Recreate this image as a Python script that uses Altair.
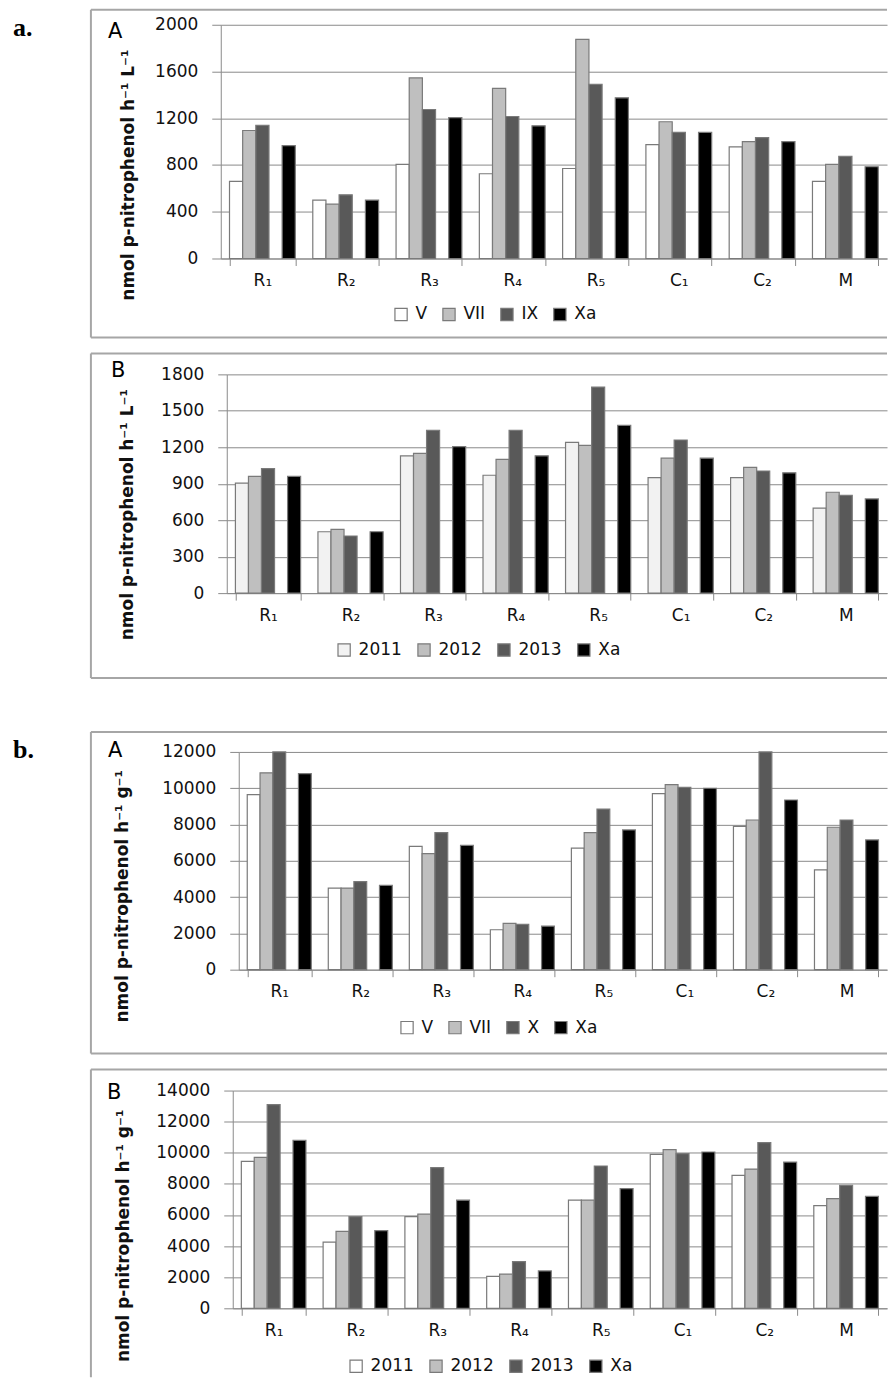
import altair as alt
import pandas as pd

categories = ["R₁", "R₂", "R₃", "R₄", "R₅", "C₁", "C₂", "M"]

# a. A  (nmol p-nitrophenol h-1 L-1, months)
aA_series = ["V", "VII", "IX", "Xa"]
aA_V = [660, 500, 805, 725, 770, 975, 955, 660]
aA_VII = [1095, 465, 1545, 1455, 1875, 1170, 1000, 805]
aA_IX = [1140, 545, 1275, 1215, 1490, 1080, 1035, 875]
aA_Xa = [965, 500, 1205, 1135, 1375, 1080, 1000, 785]

# a. B  (years)
aB_series = ["2011", "2012", "2013", "Xa"]
aB_2011 = [905, 505, 1130, 970, 1240, 950, 950, 700]
aB_2012 = [960, 525, 1150, 1100, 1215, 1110, 1035, 830]
aB_2013 = [1025, 470, 1340, 1340, 1695, 1260, 1005, 805]
aB_Xa = [960, 505, 1205, 1130, 1380, 1110, 990, 775]

# b. A  (nmol p-nitrophenol h-1 g-1, months)
bA_series = ["V", "VII", "X", "Xa"]
bA_V = [9650, 4500, 6800, 2200, 6700, 9700, 7900, 5500]
bA_VII = [10850, 4500, 6400, 2550, 7550, 10200, 8250, 7850]
bA_X = [12000, 4850, 7550, 2500, 8850, 10050, 12000, 8250]
bA_Xa = [10800, 4650, 6850, 2400, 7700, 10000, 9350, 7150]

# b. B  (years)
bB_series = ["2011", "2012", "2013", "Xa"]
bB_2011 = [9450, 4250, 5900, 2050, 6950, 9900, 8550, 6600]
bB_2012 = [9700, 4950, 6050, 2200, 6950, 10200, 8950, 7050]
bB_2013 = [13100, 5900, 9050, 3000, 9150, 9950, 10650, 7900]
bB_Xa = [10800, 5000, 6950, 2400, 7700, 10050, 9400, 7200]

title_L = "nmol p-nitrophenol h⁻¹ L⁻¹"
title_g = "nmol p-nitrophenol h⁻¹ g⁻¹"

COLORS_W = ["#ffffff", "#bfbfbf", "#595959", "#000000"]
COLORS_L = ["#f2f2f2", "#bfbfbf", "#595959", "#000000"]

FONT = "DejaVu Sans"
TXT = "#111111"
AX = "#8a8a8a"
EDGE = "#7a7a7a"
FRAME = "#a6a6a6"
ANCHOR = -150

one = pd.DataFrame({"k": [0]})
RES = dict(x="independent", y="independent", color="independent", xOffset="independent")


def panel(series, cols, colors, ymax, ystep, ytitle, letter, G):
    rows = []
    for s, vals in zip(series, cols):
        for c, v in zip(categories, vals):
            rows.append({"cat": c, "series": s, "value": v})
    df = pd.DataFrame(rows)
    W, H = G["w"], G["h"]
    offset_domain = series[:3] + ["gap"] + series[3:]

    bars = alt.Chart(df).mark_bar(stroke=EDGE, strokeWidth=1.2).encode(
        x=alt.X("cat:N", sort=categories,
                scale=alt.Scale(paddingInner=0.21, paddingOuter=0.105),
                axis=alt.Axis(title=None, labelAngle=0, tickBand="extent", grid=False,
                              domainColor=AX, tickColor=AX, tickSize=7, labelPadding=7,
                              labelFont=FONT, labelFontSize=17, labelColor=TXT)),
        xOffset=alt.XOffset("series:N",
                            scale=alt.Scale(domain=offset_domain, paddingInner=0, paddingOuter=0)),
        y=alt.Y("value:Q", scale=alt.Scale(domain=[0, ymax], nice=False),
                axis=alt.Axis(values=list(range(0, ymax + 1, ystep)), format="d",
                              grid=True, gridColor=AX,
                              domainColor=AX, tickColor=AX, tickSize=9, labelPadding=14,
                              labelFont=FONT, labelFontSize=17, labelColor=TXT,
                              title=ytitle, titleFont=FONT, titleFontSize=17,
                              titleFontWeight="bold", titleColor=TXT,
                              titleX=G["tx"], titleY=G["ty"], titleAngle=270,
                              titleBaseline="alphabetic", titleAlign="center")),
        color=alt.Color("series:N", scale=alt.Scale(domain=series, range=colors),
                        legend=alt.Legend(orient="none", legendX=G["lx"], legendY=G["ly"],
                                          direction="horizontal", title=None,
                                          symbolType="square", symbolSize=150,
                                          symbolStrokeColor=EDGE, symbolStrokeWidth=1.2,
                                          labelFont=FONT, labelFontSize=17, labelColor=TXT,
                                          labelOffset=6, columnPadding=12, padding=0)),
    )

    base = alt.Chart(one)
    layers = []
    # invisible left anchor, common to all panels
    layers.append(base.mark_rule(color="#ffffff", strokeWidth=1).encode(
        x=alt.value(ANCHOR), y=alt.value(0), y2=alt.value(2)))
    # invisible top anchor (extra gap above the frame)
    if G.get("top") is not None:
        layers.append(base.mark_rule(color="#ffffff", strokeWidth=1).encode(
            x=alt.value(0), x2=alt.value(2), y=alt.value(G["top"])))
    # frame
    layers.append(base.mark_rule(color=FRAME, strokeWidth=2).encode(
        x=alt.value(G["fl"]), x2=alt.value(W), y=alt.value(G["ft"])))
    layers.append(base.mark_rule(color=FRAME, strokeWidth=2).encode(
        x=alt.value(G["fl"]), y=alt.value(G["ft"]), y2=alt.value(G["fb"])))
    if G["bottom"]:
        layers.append(base.mark_rule(color=FRAME, strokeWidth=2).encode(
            x=alt.value(G["fl"]), x2=alt.value(W), y=alt.value(G["fb"])))
    layers.append(bars)
    layers.append(base.mark_text(align="left", baseline="alphabetic", font=FONT,
                                 fontSize=21, color="#000000").encode(
        x=alt.value(G["ax"]), y=alt.value(G["ay"]), text=alt.value(letter)))
    return alt.layer(*layers).properties(width=W, height=H)


def row(p, G, tag=None):
    sw = G["sw"]
    base = alt.Chart(one)
    sl = [base.mark_rule(color="#ffffff", strokeWidth=1).encode(
        x=alt.value(0), x2=alt.value(sw), y=alt.value(0))]
    if tag:
        sl.append(base.mark_text(align="left", baseline="alphabetic",
                                 font="Liberation Serif", fontWeight="bold",
                                 fontSize=26, color="#000000").encode(
            x=alt.value(4), y=alt.value(G["gy"]), text=alt.value(tag)))
    spacer = alt.layer(*sl).properties(width=sw, height=20)
    return alt.hconcat(spacer, p, spacing=0).resolve_scale(**RES)


# geometry: y-axis page x = sw + 160 ; all y offsets relative to plot top
G_aA = dict(sw=60, w=667, h=234, fl=-130, ft=-15, fb=313, bottom=True,
            tx=-87, ty=150, lx=172, ly=281, ax=-113, ay=13, gy=11)
G_aB = dict(sw=66, w=661, h=219, fl=-136, ft=-21, fb=304, bottom=True,
            tx=-94, ty=140, lx=109, ly=267, ax=-116, ay=3)
G_bA = dict(sw=78, w=649, h=218, fl=-148, ft=-20, fb=302, bottom=True, top=-58,
            tx=-111, ty=144, lx=160, ly=267, ax=-131, ay=5, gy=6)
G_bB = dict(sw=72, w=655, h=218, fl=-142, ft=-21, fb=287, bottom=False,
            tx=-104, ty=145, lx=115, ly=267, ax=-126, ay=8)

pA = panel(aA_series, [aA_V, aA_VII, aA_IX, aA_Xa], COLORS_W, 2000, 400, title_L, "A", G_aA)
pB = panel(aB_series, [aB_2011, aB_2012, aB_2013, aB_Xa], COLORS_L, 1800, 300, title_L, "B", G_aB)
qA = panel(bA_series, [bA_V, bA_VII, bA_X, bA_Xa], COLORS_W, 12000, 2000, title_g, "A", G_bA)
qB = panel(bB_series, [bB_2011, bB_2012, bB_2013, bB_Xa], COLORS_W, 14000, 2000, title_g, "B", G_bB)

chart = (
    alt.vconcat(row(pA, G_aA, "a."), row(pB, G_aB), row(qA, G_bA, "b."), row(qB, G_bB),
                spacing=14)
    .resolve_scale(**RES)
    .properties(padding=0)
    .configure_view(stroke=None)
)

chart.save("out.html", embed_options={"renderer": "svg", "actions": False})
